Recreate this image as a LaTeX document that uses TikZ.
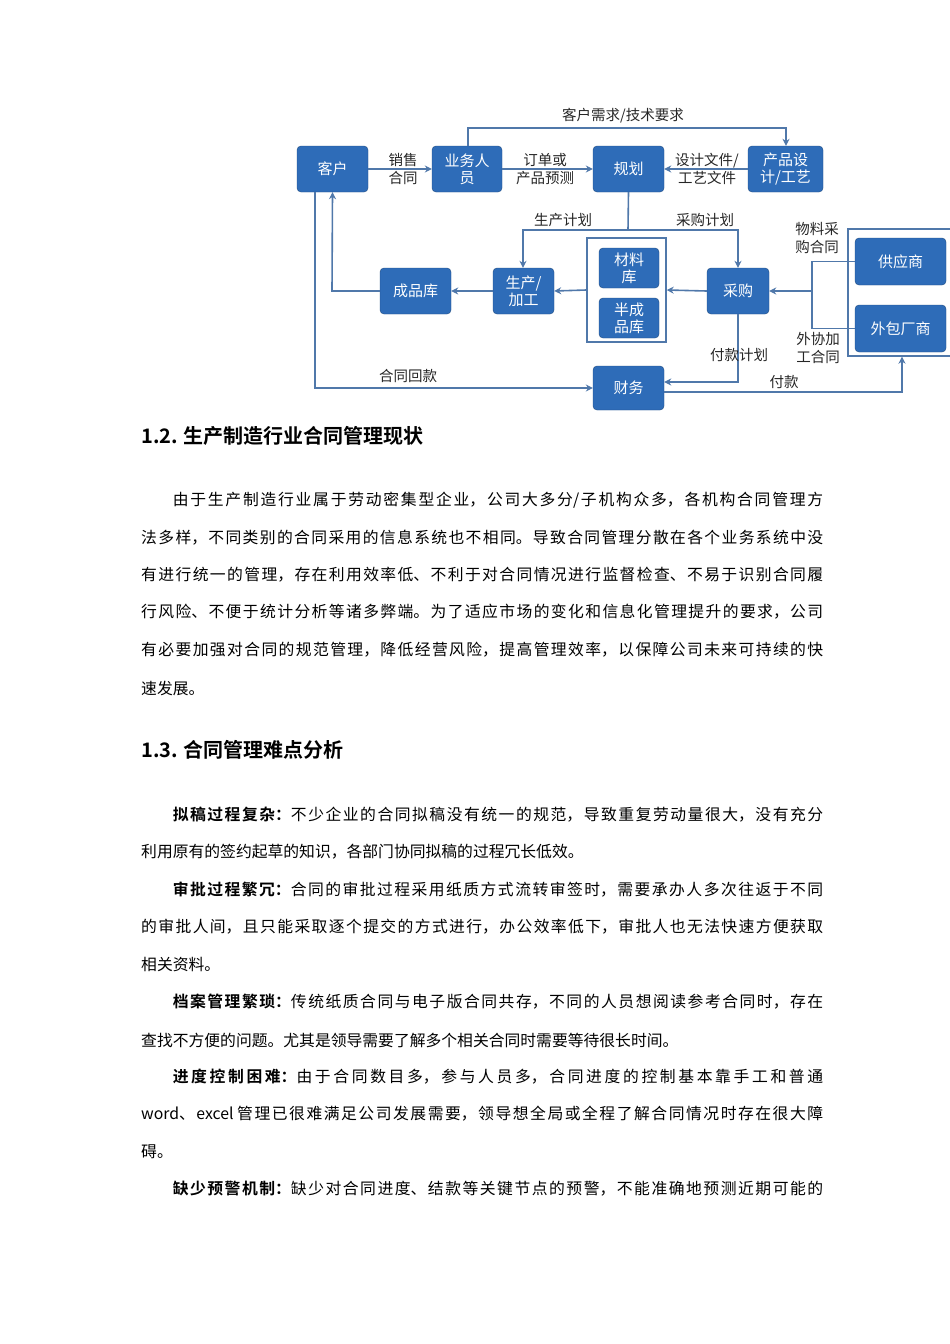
\documentclass[tikz,border=0pt]{standalone}
\usepackage{fontspec}
\newfontfamily\cjk{Noto Sans CJK SC}[BoldFont={Noto Sans CJK SC Bold}]
\usetikzlibrary{arrows.meta}
\definecolor{bx}{RGB}{46,108,184}
\definecolor{ln}{RGB}{80,120,170}
\newcommand\bline[2]{\node[anchor=west,inner sep=0] (L#1) at (141,#1) {\parbox{682pt}{\cjk\fontsize{15.8}{18}\selectfont\XeTeXlinebreaklocale "zh"\XeTeXlinebreakskip=0pt plus 30pt\parfillskip=0pt\relax #2}};}
\newcommand\lline[2]{\node[anchor=west,inner sep=0] (L#1) at (141,#1) {\cjk\fontsize{15.8}{18}\selectfont #2};}
\begin{document}
\begin{tikzpicture}[x=1pt,y=-1pt,
 bxs/.style={draw=bx!70!black,fill=bx,rounded corners=4pt,text=white,align=center,font=\cjk\fontsize{15}{17}\selectfont,inner sep=0},
 lbl/.style={font=\cjk\fontsize{14.5}{17.5}\selectfont,text=black!85,align=center,inner sep=0},
 con/.style={draw=ln,line width=1.6pt},
 arr/.style={con,-{Stealth[length=7pt,width=7pt]}}]
\useasboundingbox (0,0) rectangle (950,1344);
% boxes
\node[bxs,minimum width=71pt,minimum height=46pt] (kh) at (332.5,169) {客户};
\node[bxs,minimum width=70pt,minimum height=46pt] (yw) at (467,169) {业务人\\员};
\node[bxs,minimum width=71pt,minimum height=46pt] (gh) at (628.5,169) {规划};
\node[bxs,minimum width=75pt,minimum height=46pt] (cp) at (785.5,169) {产品设\\计/工艺};
\node[bxs,minimum width=71pt,minimum height=46pt] (cpk) at (415.5,291) {成品库};
\node[bxs,minimum width=61pt,minimum height=46pt] (sc) at (523.5,291) {生产/\\加工};
\node[draw=ln,line width=1.4pt,minimum width=79pt,minimum height=104pt,inner sep=0] (fr) at (626.5,290) {};
\node[bxs,minimum width=60pt,minimum height=40pt] (clk) at (629,268) {材料\\库};
\node[bxs,minimum width=60pt,minimum height=40pt] (bcp) at (629,318) {半成\\品库};
\node[bxs,minimum width=62pt,minimum height=46pt] (cg) at (738,291) {采购};
\node[draw=ln,line width=1.4pt,minimum width=110pt,minimum height=127pt,inner sep=0] (sf) at (903,292.5) {};
\node[bxs,minimum width=91pt,minimum height=47pt] (gys) at (900.5,261.5) {供应商};
\node[bxs,minimum width=91pt,minimum height=47pt] (wb) at (900.5,328.5) {外包厂商};
\node[bxs,minimum width=71pt,minimum height=44pt] (cw) at (628.5,388) {财务};
% coordinates
\coordinate (t1) at (468,128); \coordinate (t2) at (786,128);
\coordinate (j) at (628,230); \coordinate (jl) at (523,230); \coordinate (jr) at (738,230);
\coordinate (v) at (812,291);
% connectors
\draw[arr] (kh.east) -- (yw.west);
\draw[arr] (yw.east) -- (gh.west);
\draw[arr] (cp.west) -- (gh.east);
\draw[arr] (yw.north -| t1) -- (t1) -- (t2) -- (cp.north -| t2);
\draw[con] (gh.south) -- (j);
\draw[arr] (jr) -- (jl) -- (sc.north -| jl);
\draw[arr] (j) -- (jr) -- (cg.north);
\draw[arr] (cg.west) -- (fr.east);
\draw[arr] (fr.west) -- (sc.east);
\draw[arr] (sc.west) -- (cpk.east);
\draw[arr] (cpk.west) -- (332,291) -- (kh.south);
\draw[arr] (kh.south -| 315,0) -- (315,388) -- (cw.west);
\draw[arr] (cg.south) -- (738,382) -- (cw.east |- 0,382);
\draw[arr] (cw.east |- 0,392) -- (902,392) -- (sf.south -| 902,0);
\draw[con] (gys.west) -- (812,261.5) -- (812,328.5) -- (wb.west);
\draw[arr] (v) -- (cg.east);
% labels
\node[lbl] (l1) at (403,169) {销售\\合同};
\node[lbl] (l2) at (545,169) {订单或\\产品预测};
\node[lbl] (l3) at (707,169) {设计文件/\\工艺文件};
\node[lbl] (l4) at (623,116) {客户需求/技术要求};
\node[lbl] (l5) at (563,220) {生产计划};
\node[lbl] (l6) at (705,220) {采购计划};
\node[lbl] (l7) at (817,238) {物料采\\购合同};
\node[lbl] (l8) at (818,348) {外协加\\工合同};
\node[lbl] (l9) at (739,355) {付款计划};
\node[lbl] (l10) at (408,376) {合同回款};
\node[lbl] (l11) at (784,382) {付款};
% headings
\node[anchor=west,inner sep=0] (h1) at (141,436) {\cjk\fontsize{20}{22}\selectfont\bfseries 1.2. 生产制造行业合同管理现状};
\node[anchor=west,inner sep=0] (h2) at (141,750) {\cjk\fontsize{20}{22}\selectfont\bfseries 1.3. 合同管理难点分析};
% body
\bline{500}{\hspace*{2em}由于生产制造行业属于劳动密集型企业，公司大多分/子机构众多，各机构合同管理方}
\bline{538}{法多样，不同类别的合同采用的信息系统也不相同。导致合同管理分散在各个业务系统中没}
\bline{575}{有进行统一的管理，存在利用效率低、不利于对合同情况进行监督检查、不易于识别合同履}
\bline{612}{行风险、不便于统计分析等诸多弊端。为了适应市场的变化和信息化管理提升的要求，公司}
\bline{650}{有必要加强对合同的规范管理，降低经营风险，提高管理效率，以保障公司未来可持续的快}
\lline{688}{速发展。}
\bline{815}{\hspace*{2em}{\bfseries 拟稿过程复杂：}不少企业的合同拟稿没有统一的规范，导致重复劳动量很大，没有充分}
\lline{852}{利用原有的签约起草的知识，各部门协同拟稿的过程冗长低效。}
\bline{890}{\hspace*{2em}{\bfseries 审批过程繁冗：}合同的审批过程采用纸质方式流转审签时，需要承办人多次往返于不同}
\bline{927}{的审批人间，且只能采取逐个提交的方式进行，办公效率低下，审批人也无法快速方便获取}
\lline{964}{相关资料。}
\bline{1002}{\hspace*{2em}{\bfseries 档案管理繁琐：}传统纸质合同与电子版合同共存，不同的人员想阅读参考合同时，存在}
\lline{1040}{查找不方便的问题。尤其是领导需要了解多个相关合同时需要等待很长时间。}
\bline{1077}{\hspace*{2em}{\bfseries 进度控制困难：}由于合同数目多，参与人员多，合同进度的控制基本靠手工和普通}
\bline{1114}{word、excel 管理已很难满足公司发展需要，领导想全局或全程了解合同情况时存在很大障}
\lline{1152}{碍。}
\bline{1189}{\hspace*{2em}{\bfseries 缺少预警机制：}缺少对合同进度、结款等关键节点的预警，不能准确地预测近期可能的}
\end{tikzpicture}
\end{document}
